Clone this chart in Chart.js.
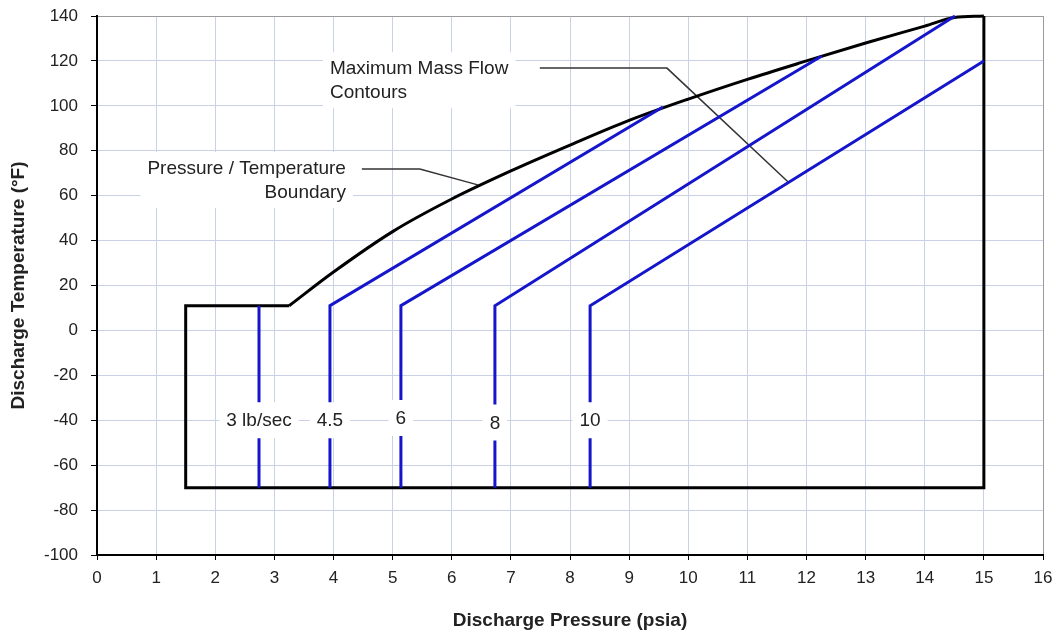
<!DOCTYPE html>
<html>
<head>
<meta charset="utf-8">
<script src="https://cdn.jsdelivr.net/npm/chart.js@4/dist/chart.umd.min.js"></script>
<style>
    body { margin: 0; background: #fff; }
    #wrap { width: 1055px; height: 632px; position: relative; }
</style>
</head>
<body>
<div id="wrap"><canvas id="chart"></canvas></div>
<script>
// x ticks / y ticks
const xTicks = [0, 1, 2, 3, 4, 5, 6, 7, 8, 9, 10, 11, 12, 13, 14, 15, 16];
const yTicks = [-100, -80, -60, -40, -20, 0, 20, 40, 60, 80, 100, 120, 140];

// pressure / temperature boundary (curved part)
const curveP = [3.25, 4, 5, 6, 7, 8, 9, 10, 11, 12, 13, 14, 14.5, 15];
const curveT = [11, 26, 44, 58.5, 71, 82.5, 93.5, 103, 111.8, 120, 128, 135.5, 139.3, 140];

// boundary box (straight part)
const boxP = [3.25, 1.5, 1.5, 15, 15];
const boxT = [11, 11, -70, -70, 140];

// max mass flow contours
const flowNames = ['3 lb/sec', '4.5', '6', '8', '10'];
const flowP = [
    [2.74, 2.74],
    [3.94, 3.94, 9.57],
    [5.14, 5.14, 12.26],
    [6.73, 6.73, 14.51],
    [8.34, 8.34, 15]
];
const flowT = [
    [-70, 11],
    [-70, 11, 99.5],
    [-70, 11, 122.2],
    [-70, 11, 140],
    [-70, 11, 120]
];
const flowLabelT = [-40, -40, -39, -41, -40];

// leader lines for the notes
const ptLeaderP = [4.48, 5.46, 6.44];
const ptLeaderT = [71.9, 71.9, 64.8];
const mmfLeaderP = [7.49, 9.64, 11.69];
const mmfLeaderT = [116.8, 116.8, 66.1];

const notes = [
    { lines: ['Pressure / Temperature', 'Boundary'], p: 4.21, t: 72.3, align: 'right' },
    { lines: ['Maximum Mass Flow', 'Contours'], p: 3.94, t: 116.8, align: 'left' }
];

const pts = (xs, ys) => xs.map((x, i) => ({ x: x, y: ys[i] }));
const BLUE = '#1515cc';
const FONT = '"Liberation Sans", Arial, sans-serif';

const datasets = [];
flowP.forEach((xs, i) => {
    datasets.push({ data: pts(xs, flowT[i]), borderColor: BLUE, borderWidth: 3, tension: 0 });
});
datasets.push({ data: pts(boxP, boxT), borderColor: '#000', borderWidth: 3, tension: 0 });
datasets.push({ data: pts(curveP, curveT), borderColor: '#000', borderWidth: 3, cubicInterpolationMode: 'monotone' });
datasets.push({ data: pts(ptLeaderP, ptLeaderT), borderColor: '#333', borderWidth: 1.5, tension: 0 });
datasets.push({ data: pts(mmfLeaderP, mmfLeaderT), borderColor: '#333', borderWidth: 1.5, tension: 0 });
datasets.forEach(d => {
    d.showLine = true;
    d.pointRadius = 0;
    d.fill = false;
    d.clip = 6;
    d.borderJoinStyle = 'miter';
});

// white boxed texts drawn on top of lines
const labelPlugin = {
    id: 'labels',
    afterDatasetsDraw(chart) {
        const { ctx, scales: { x, y } } = chart;
        ctx.save();
        ctx.font = '19px ' + FONT;
        ctx.textBaseline = 'middle';

        flowNames.forEach((name, i) => {
            const cx = x.getPixelForValue(flowP[i][0]);
            const cy = y.getPixelForValue(flowLabelT[i]);
            const w = ctx.measureText(name).width + 14;
            ctx.fillStyle = '#fff';
            ctx.fillRect(cx - w / 2, cy - 18, w, 36);
            ctx.fillStyle = '#222';
            ctx.textAlign = 'center';
            ctx.fillText(name, cx, cy + 1);
        });

        notes.forEach(n => {
            const ax = x.getPixelForValue(n.p);
            const ay = y.getPixelForValue(n.t);
            const w = Math.max(...n.lines.map(l => ctx.measureText(l).width)) + 14;
            const left = n.align === 'right' ? ax + 7 - w : ax - 7;
            ctx.fillStyle = '#fff';
            ctx.fillRect(left, ay - 16, w, 24 * n.lines.length + 8);
            ctx.fillStyle = '#222';
            ctx.textAlign = n.align;
            n.lines.forEach((l, k) => ctx.fillText(l, ax, ay + k * 24 + 1));
        });
        ctx.restore();
    }
};

const gridColor = (edge) => (c) => c.tick && c.tick.value === edge ? '#9a9a9a' : '#c9d1e6';

new Chart(document.getElementById('chart').getContext('2d'), {
    type: 'scatter',
    data: { datasets: datasets },
    options: {
        responsive: true,
        maintainAspectRatio: false,
        animation: false,
        layout: { padding: { top: 16, right: 12, left: 0, bottom: 0 } },
        plugins: { legend: { display: false }, tooltip: { enabled: false } },
        scales: {
            x: {
                type: 'linear',
                min: xTicks[0],
                max: xTicks[xTicks.length - 1],
                afterBuildTicks: s => { s.ticks = xTicks.map(v => ({ value: v })); },
                afterFit: s => { s.height = 77; s.paddingLeft = 0; s.paddingRight = 0; },
                ticks: { color: '#222', font: { family: FONT, size: 17 }, padding: 8 },
                grid: { color: gridColor(16), tickColor: '#000', tickLength: 5, lineWidth: 1 },
                border: { color: '#000', width: 2 },
                title: {
                    display: true,
                    text: 'Discharge Pressure (psia)',
                    color: '#222',
                    font: { family: FONT, size: 19, weight: 'bold', lineHeight: 1.2 },
                    padding: { top: 0, bottom: 0 }
                }
            },
            y: {
                type: 'linear',
                min: yTicks[0],
                max: yTicks[yTicks.length - 1],
                afterBuildTicks: s => { s.ticks = yTicks.map(v => ({ value: v })); },
                afterFit: s => { s.width = 97; s.paddingTop = 0; s.paddingBottom = 0; },
                ticks: { color: '#222', font: { family: FONT, size: 17 }, padding: 13 },
                grid: { color: gridColor(140), tickColor: '#000', tickLength: 6, lineWidth: 1 },
                border: { color: '#000', width: 2 },
                title: {
                    display: true,
                    text: 'Discharge Temperature (°F)',
                    color: '#222',
                    font: { family: FONT, size: 19, weight: 'bold', lineHeight: 1.2 },
                    padding: { top: 7, bottom: 0 }
                }
            }
        }
    },
    plugins: [labelPlugin]
});
</script>
</body>
</html>
